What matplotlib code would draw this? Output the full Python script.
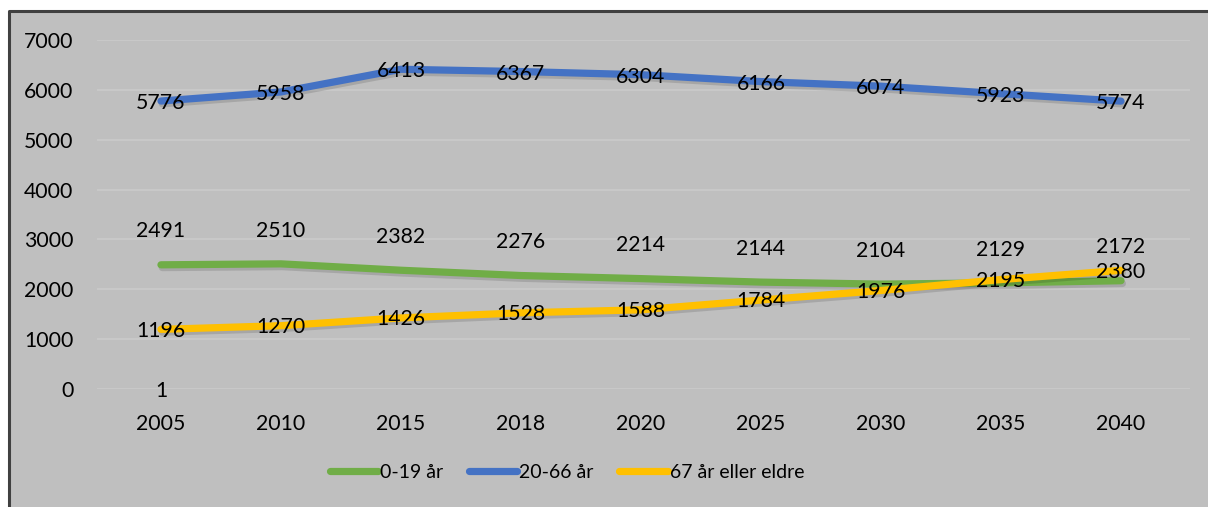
import matplotlib
matplotlib.use("Agg")
import matplotlib.pyplot as plt
import matplotlib.patheffects as pe
from matplotlib.patches import Rectangle
from matplotlib.lines import Line2D

years = ["2005", "2010", "2015", "2018", "2020", "2025", "2030", "2035", "2040"]
young = [2491, 2510, 2382, 2276, 2214, 2144, 2104, 2129, 2172]
working = [5776, 5958, 6413, 6367, 6304, 6166, 6074, 5923, 5774]
elderly = [1196, 1270, 1426, 1528, 1588, 1784, 1976, 2195, 2380]
series_names = ["0-19 år", "20-66 år", "67 år eller eldre"]
colors = ["#70ad47", "#4472c4", "#ffc000"]

plt.rcParams["font.family"] = ["Lato", "DejaVu Sans"]
fs = 15.3

W, H = 1208, 507
fig = plt.figure(figsize=(W / 100, H / 100), dpi=100)
fig.patch.set_facecolor("white")

# chart box (runs off the right and bottom edges): fill plus left/top border
bx, by = 8.5 / W, 1 - 10.5 / H
fig.patches.append(Rectangle((bx, 0), 1 - bx, by, transform=fig.transFigure,
                             facecolor="#bfbfbf", edgecolor="none", zorder=0))
fig.lines.append(Line2D([bx, bx, 1], [0, by, by], transform=fig.transFigure,
                        color="#404040", linewidth=2.2, zorder=1))

ax = fig.add_axes([97 / W, 1 - 389 / H, 1093 / W, 349 / H])
ax.set_zorder(2)
ax.set_facecolor("none")
x = list(range(len(years)))
ax.set_xlim(-0.533, 8.575)
ax.set_ylim(0, 7000)
ax.set_yticks(range(0, 7001, 1000))
ax.yaxis.grid(True, color="#cbcbcb", linewidth=1.2)
ax.set_axisbelow(True)
for s in ax.spines.values():
    s.set_visible(False)
ax.tick_params(length=0, labelsize=fs, colors="black")
ax.tick_params(axis="y", pad=17)
ax.tick_params(axis="x", pad=18)
ax.set_xticks(x)
ax.set_xticklabels(years)

shadow = [pe.SimpleLineShadow(offset=(1, -2), shadow_color="black", alpha=0.13),
          pe.Normal()]
lines = []
for vals, name, c in zip([young, working, elderly], series_names, colors):
    ln, = ax.plot(x, vals, color=c, lw=5.2, solid_capstyle="round",
                  solid_joinstyle="round", label=name, path_effects=shadow, zorder=3)
    lines.append(ln)

for xi, v in zip(x, young):
    ax.annotate(str(v), (xi, v), xytext=(0, 24), textcoords="offset points",
                ha="center", va="center", fontsize=fs, zorder=5)
for xi, v in zip(x, working):
    ax.annotate(str(v), (xi, v), xytext=(0, -1.5), textcoords="offset points",
                ha="center", va="center", fontsize=fs, zorder=5)
for xi, v in zip(x, elderly):
    ax.annotate(str(v), (xi, v), xytext=(0, -1), textcoords="offset points",
                ha="center", va="center", fontsize=fs, zorder=5)
# stray label at the origin
ax.annotate("1", (0, 0), xytext=(0, -1.5), textcoords="offset points",
            ha="center", va="center", fontsize=fs, zorder=5)

leg = fig.legend(handles=lines, loc="center", bbox_to_anchor=(567 / W, 1 - 472 / H),
                 ncol=3, frameon=False, fontsize=14, handlelength=2.5,
                 handletextpad=0.1, columnspacing=1.3)
leg.set_zorder(3)
for h in leg.legend_handles:
    h.set_path_effects([])
    h.set_solid_capstyle("round")

fig.savefig("out.png", dpi=100, facecolor=fig.get_facecolor())
